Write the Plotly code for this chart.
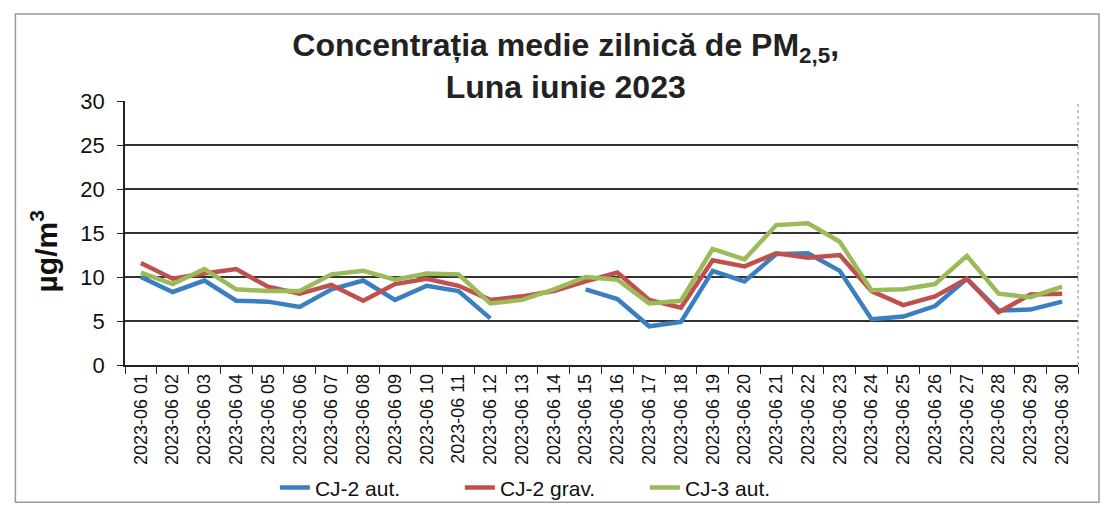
import plotly.graph_objects as go

# Daily dates of June 2023 (tick labels as printed)
days = ["2023-06 %02d" % d for d in range(1, 31)]

# Daily mean PM2.5 values (ug/m3)
cj2_aut = [10.0, 8.3, 9.6, 7.3, 7.2, 6.6, 8.6, 9.6, 7.4, 9.0,
           8.4, 5.3, None, None, 8.6, 7.5, 4.4, 4.9, 10.7, 9.5,
           12.6, 12.7, 10.7, 5.2, 5.5, 6.7, 9.8, 6.2, 6.3, 7.2]
cj2_grav = [11.6, 9.8, 10.4, 10.9, 8.9, 8.1, 9.1, 7.3, 9.2, 9.8,
            9.0, 7.4, 7.8, 8.4, 9.5, 10.5, 7.4, 6.5, 11.9, 11.2,
            12.7, 12.2, 12.5, 8.4, 6.8, 7.8, 9.8, 6.0, 8.0, 8.1]
cj3_aut = [10.5, 9.2, 10.9, 8.6, 8.4, 8.4, 10.3, 10.7, 9.7, 10.4,
           10.3, 7.0, 7.4, 8.6, 10.0, 9.7, 7.0, 7.3, 13.2, 12.0,
           15.9, 16.1, 14.0, 8.5, 8.6, 9.2, 12.4, 8.1, 7.7, 8.9]

series = [
    ("CJ-2 aut.", cj2_aut, "#3b7fc0"),
    ("CJ-2 grav.", cj2_grav, "#c0504d"),
    ("CJ-3 aut.", cj3_aut, "#9bbb59"),
]

fig = go.Figure()
for name, vals, color in series:
    fig.add_trace(go.Scatter(x=days, y=vals, mode="lines", name=name,
                             line=dict(color=color, width=4.5),
                             connectgaps=False))

font = "Liberation Sans, Arial, sans-serif"

# the page body adds an 8px offset, margins below account for it
fig.update_layout(
    width=1111, height=510,
    margin=dict(l=117, r=41, t=93, b=153),
    paper_bgcolor="white", plot_bgcolor="white",
    font=dict(family=font, color="#111"),
    title=dict(text="<b>Concentrația medie zilnică de PM<sub>2,5</sub>,<br>Luna iunie 2023</b>",
               x=0.502, xanchor="center", y=0.905, yanchor="middle",
               font=dict(size=32, color="#222")),
    showlegend=True,
    legend=dict(orientation="h", xref="container", yref="container",
                x=0.49, xanchor="center", y=0.059, yanchor="middle",
                font=dict(size=21, color="#111"), entrywidth=140,
                bgcolor="rgba(0,0,0,0)"),
)

fig.update_xaxes(
    type="category", range=[-0.5, 29.5], tickangle=-90, automargin=False,
    tickfont=dict(size=18, color="#111"),
    showline=True, linecolor="#222", linewidth=1.5,
    ticks="outside", tickson="boundaries", ticklen=7, tickcolor="#222",
    showgrid=False, mirror=False,
)
fig.update_yaxes(
    range=[0, 30], dtick=5, automargin=False, tickfont=dict(size=22, color="#111"),
    ticklabelstandoff=8,
    showline=True, linecolor="#222", linewidth=1.5,
    ticks="outside", ticklen=6, tickcolor="#222",
    showgrid=True, gridcolor="#333", gridwidth=1.5,
    zeroline=False,
)

# y axis title, placed like in the original (a bit below the plot centre)
fig.add_annotation(text="<b>µg/m<sup>3</sup></b>", textangle=-90,
                   xref="paper", yref="paper", x=-0.084, y=0.43,
                   xanchor="center", yanchor="middle", showarrow=False,
                   font=dict(size=30, color="#111"))

# right border of plot area (dotted in the original)
fig.add_shape(type="line", xref="paper", yref="paper", x0=1, x1=1, y0=0, y1=1,
              line=dict(color="#888", width=1, dash="dot"))

# outer frame of the chart object
fig.add_shape(type="rect", xref="paper", yref="paper",
              x0=-0.115, x1=1.022, y0=-0.52, y1=1.33,
              line=dict(color="#999", width=1.5))

fig.write_html("out.html")
